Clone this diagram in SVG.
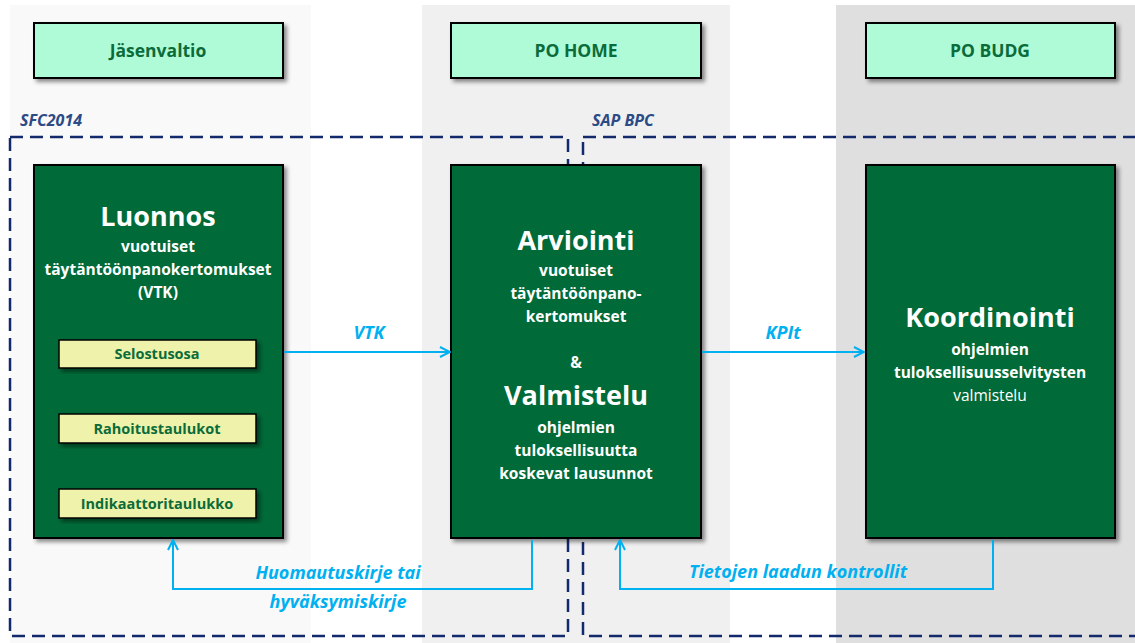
<svg xmlns="http://www.w3.org/2000/svg" width="1135" height="643" viewBox="0 0 1135 643">
  <defs>
    <filter id="shadow" x="-10%" y="-10%" width="130%" height="130%">
      <feDropShadow dx="3" dy="3" stdDeviation="2" flood-color="#000" flood-opacity="0.45"/>
    </filter>
    <marker id="chev" viewBox="0 0 12 12" refX="11" refY="6" markerWidth="12" markerHeight="12" markerUnits="userSpaceOnUse" orient="auto">
      <path d="M1,1 L11,6 L1,11" fill="none" stroke="#00b0f0" stroke-width="2"/>
    </marker>
    <style>
      .lane1 { fill: #f9f9f9; }
      .lane2 { fill: #f0f0f0; }
      .lane3 { fill: #dfdfdf; }
      .head { fill: #b0fbd7; stroke: #000; stroke-width: 2; filter: url(#shadow); }
      .headtxt { font-family: "Open Sans", "Liberation Sans", sans-serif; font-weight: bold; font-size: 17.5px; fill: #0b6b3a; text-anchor: middle; }
      .main { fill: #036b38; stroke: #000; stroke-width: 2; filter: url(#shadow); }
      .title { font-family: "Open Sans", "Liberation Sans", sans-serif; font-weight: bold; font-size: 27px; fill: #fff; text-anchor: middle; }
      .sub { font-family: "Open Sans", "Liberation Sans", sans-serif; font-weight: bold; font-size: 15.5px; fill: #fff; text-anchor: middle; }
      .subn { font-family: "Open Sans", "Liberation Sans", sans-serif; font-size: 15.5px; fill: #fff; text-anchor: middle; }
      .part { fill: #eef2aa; stroke: #000; stroke-width: 1.5; filter: url(#shadow); }
      .parttxt { font-family: "Open Sans", "Liberation Sans", sans-serif; font-weight: bold; font-size: 14.5px; fill: #0b6b3a; text-anchor: middle; }
      .zone { fill: none; stroke: #12296b; stroke-width: 2.5; stroke-dasharray: 13 7; }
      .zonetxt { font-family: "Open Sans", "Liberation Sans", sans-serif; font-weight: bold; font-style: italic; font-size: 16px; fill: #2b4a86; }
      .flow { fill: none; stroke: #00b0f0; stroke-width: 2; marker-end: url(#chev); }
      .flowtxt { font-family: "Open Sans", "Liberation Sans", sans-serif; font-weight: bold; font-style: italic; font-size: 18px; fill: #00b0f0; text-anchor: middle; }
    </style>
  </defs>

  <rect width="1135" height="643" fill="#ffffff"/>

  <!-- swimlane backgrounds -->
  <g id="lanes">
    <rect class="lane1" x="10" y="5" width="301" height="638"/>
    <rect class="lane2" x="422" y="5" width="308" height="638"/>
    <rect class="lane3" x="836" y="5" width="299" height="638"/>
  </g>

  <!-- system boundaries -->
  <g id="zone-sfc2014">
    <rect class="zone" x="10" y="137" width="558" height="499"/>
    <text class="zonetxt" x="20" y="126">SFC2014</text>
  </g>
  <g id="zone-sapbpc">
    <rect class="zone" x="583" y="137" width="570" height="499"/>
    <text class="zonetxt" x="592" y="126">SAP BPC</text>
  </g>

  <!-- lane headers -->
  <g id="head-jasenvaltio">
    <rect class="head" x="34" y="23" width="249" height="55"/>
    <text class="headtxt" x="158" y="57">Jäsenvaltio</text>
  </g>
  <g id="head-pohome">
    <rect class="head" x="451" y="23" width="250" height="55"/>
    <text class="headtxt" x="576" y="57">PO HOME</text>
  </g>
  <g id="head-pobudg">
    <rect class="head" x="866" y="23" width="249" height="55"/>
    <text class="headtxt" x="990" y="57">PO BUDG</text>
  </g>

  <!-- process steps -->
  <g id="luonnos">
    <rect class="main" x="34" y="165" width="249" height="373"/>
    <text class="title" x="158" y="226">Luonnos</text>
    <text class="sub" x="158" y="252">vuotuiset</text>
    <text class="sub" x="158" y="275">täytäntöönpanokertomukset</text>
    <text class="sub" x="158" y="298">(VTK)</text>
  </g>
  <g id="selostusosa">
    <rect class="part" x="59" y="340" width="197" height="28"/>
    <text class="parttxt" x="157" y="359">Selostusosa</text>
  </g>
  <g id="rahoitustaulukot">
    <rect class="part" x="59" y="414" width="197" height="29"/>
    <text class="parttxt" x="157" y="434">Rahoitustaulukot</text>
  </g>
  <g id="indikaattoritaulukko">
    <rect class="part" x="59" y="489" width="197" height="29"/>
    <text class="parttxt" x="157" y="509">Indikaattoritaulukko</text>
  </g>

  <g id="arviointi">
    <rect class="main" x="451" y="165" width="250" height="373"/>
    <text class="title" x="576" y="250">Arviointi</text>
    <text class="sub" x="576" y="276">vuotuiset</text>
    <text class="sub" x="576" y="299">täytäntöönpano-</text>
    <text class="sub" x="576" y="322">kertomukset</text>
    <text class="sub" x="576" y="368">&amp;</text>
    <text class="title" x="576" y="405">Valmistelu</text>
    <text class="sub" x="576" y="433">ohjelmien</text>
    <text class="sub" x="576" y="456">tuloksellisuutta</text>
    <text class="sub" x="576" y="479">koskevat lausunnot</text>
  </g>

  <g id="koordinointi">
    <rect class="main" x="866" y="165" width="249" height="373"/>
    <text class="title" x="990" y="327">Koordinointi</text>
    <text class="sub" x="990" y="355">ohjelmien</text>
    <text class="sub" x="990" y="378">tuloksellisuusselvitysten</text>
    <text class="subn" x="990" y="401">valmistelu</text>
  </g>

  <!-- information flows -->
  <g id="connectors">
    <path class="flow" d="M284,352 H450"/>
    <text class="flowtxt" x="369" y="339">VTK</text>

    <path class="flow" d="M702,352 H864"/>
    <text class="flowtxt" x="783" y="339">KPIt</text>

    <path class="flow" d="M532,540 V589 H173 V540"/>
    <text class="flowtxt" x="338" y="579">Huomautuskirje tai</text>
    <text class="flowtxt" x="338" y="608">hyväksymiskirje</text>

    <path class="flow" d="M993,540 V589 H620 V540"/>
    <text class="flowtxt" x="798" y="578">Tietojen laadun kontrollit</text>
  </g>
</svg>
